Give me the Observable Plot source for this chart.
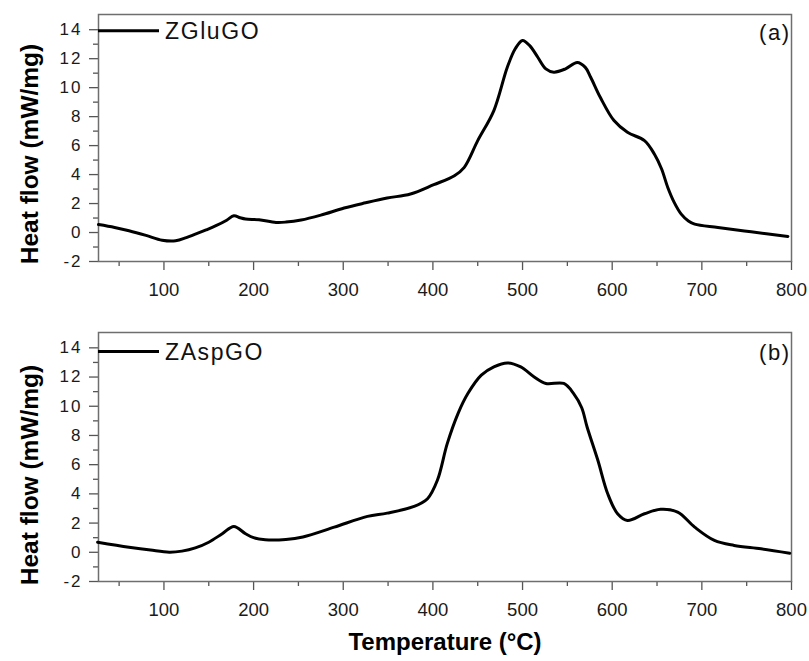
<!DOCTYPE html>
<html><head><meta charset="utf-8">
<script src="https://cdn.jsdelivr.net/npm/d3@7"></script>
<script src="https://cdn.jsdelivr.net/npm/@observablehq/plot@0.6"></script>
<style>
body{margin:0;background:#fff;}
#chart{width:809px;height:661px;position:relative;font-family:"Liberation Sans",Arial,sans-serif;background:#fff;}
#chart svg{display:block;}
#chart g[aria-label="y-axis tick label"] text{font-size:17px;letter-spacing:2px;}
#chart g[aria-label="x-axis tick label"] text{font-size:18.5px;}
</style></head><body><div id="chart"></div>
<script>
// Panel (a): ZGluGO
const tempA = [27, 45, 61, 80, 98, 113, 125, 135, 147, 158, 170, 178, 185, 191, 206, 225, 236, 253, 275, 301, 325, 349, 375, 401, 424, 435, 450, 468, 483, 492, 500, 508, 517, 526, 535, 548, 561, 570, 576, 587, 602, 617, 636, 647, 655, 662, 669, 677, 685, 692, 718, 755, 796];
const heatA = [0.55, 0.35, 0.12, -0.2, -0.53, -0.57, -0.35, -0.11, 0.18, 0.47, 0.85, 1.16, 1.02, 0.93, 0.88, 0.70, 0.72, 0.86, 1.2, 1.69, 2.05, 2.38, 2.66, 3.3, 3.92, 4.5, 6.34, 8.42, 11.41, 12.7, 13.26, 12.9, 12.1, 11.3, 11.07, 11.3, 11.74, 11.4, 10.72, 9.3, 7.73, 6.92, 6.34, 5.42, 4.4, 3.11, 2.1, 1.27, 0.8, 0.58, 0.35, 0.05, -0.27];
// Panel (b): ZAspGO
const tempB = [26, 61, 85, 106, 120, 135, 150, 165, 178, 191, 200, 213, 236, 255, 290, 327, 349, 379, 394, 405, 416, 428, 439, 454, 468, 483, 498, 513, 526, 546, 557, 566, 572, 584, 595, 606, 617, 636, 654, 673, 692, 714, 736, 766, 798];
const heatB = [0.69, 0.35, 0.15, 0.01, 0.08, 0.3, 0.69, 1.27, 1.77, 1.27, 1.0, 0.86, 0.88, 1.05, 1.72, 2.46, 2.68, 3.14, 3.67, 4.93, 7.44, 9.5, 10.87, 12.13, 12.7, 12.97, 12.7, 12.01, 11.56, 11.56, 10.87, 9.9, 8.58, 6.3, 4.01, 2.64, 2.18, 2.64, 2.94, 2.75, 1.72, 0.81, 0.47, 0.24, -0.06];

const seriesNames = ["ZGluGO", "ZAspGO"];
const panelTags = ["(a)", "(b)"];
const xTicks = [100, 200, 300, 400, 500, 600, 700, 800];
const xMinorTicks = [50, 150, 250, 350, 450, 550, 650, 750];
const yTicks = [-2, 0, 2, 4, 6, 8, 10, 12, 14];
const yMinorTicks = [-1, 1, 3, 5, 7, 9, 11, 13];
const xDomain = [27, 800];
const yDomain = [-2, 15.05];
const xTitle = "Temperature (°C)";
const yTitle = "Heat flow (mW/mg)";

const FONT = '"Liberation Sans", Arial, sans-serif';
const TICK = "#555";

function panel(temps, heats, name, tag, o) {
  const data = temps.map((t, i) => ({t, h: heats[i]}));
  const legend = (index, scales, values, dims) => {
    const g = d3.create("svg:g");
    const x0 = dims.marginLeft, y0 = dims.marginTop + o.legendDy;
    g.append("line").attr("x1", x0).attr("x2", x0 + 61).attr("y1", y0).attr("y2", y0)
      .attr("stroke", "black").attr("stroke-width", 3);
    g.append("text").attr("x", x0 + 67).attr("y", y0).attr("dy", "0.36em")
      .attr("text-anchor", "start")
      .attr("font-size", 23).attr("letter-spacing", 1.6).attr("fill", "#111")
      .attr("font-family", FONT).text(name);
    return g.node();
  };
  const marks = [
    Plot.axisY(yTicks, {tickSize: 9, tickPadding: 7, fontSize: 17, stroke: TICK, strokeWidth: 1.3, fill: "#1a1a1a", label: null, tickFormat: d => String(d)}),
    Plot.axisY(yMinorTicks, {tickSize: 5, stroke: TICK, strokeWidth: 1.3, label: null, tickFormat: () => ""}),
    Plot.axisX(xTicks, {tickSize: 9, tickPadding: 12, fontSize: 18.5, stroke: TICK, strokeWidth: 1.3, fill: "#1a1a1a", label: null, tickFormat: d => String(d)}),
    Plot.axisX(xMinorTicks, {tickSize: 5, stroke: TICK, strokeWidth: 1.3, label: null, tickFormat: () => ""}),
    Plot.frame({stroke: "#6e6e6e", strokeWidth: 1.5}),
    Plot.line(data, {x: "t", y: "h", stroke: "black", strokeWidth: 3, curve: "catmull-rom"}),
    legend,
    Plot.text([tag], {frameAnchor: "top-right", dx: -1, dy: o.tagDy, textAnchor: "end", lineAnchor: "top", fontSize: 22, fill: "#111"}),
    Plot.text([yTitle], {frameAnchor: "left", textAnchor: "middle", rotate: -90, dx: -68.4, dy: o.yTitleDy, fontSize: 24.5, fontWeight: "bold", fill: "#000"})
  ];
  if (o.showXTitle) {
    marks.push(Plot.text([xTitle], {frameAnchor: "bottom", textAnchor: "middle", dy: 68, fontSize: 24, fontWeight: "bold", fill: "#000"}));
  }
  const svg = Plot.plot({
    width: 809, height: o.height,
    marginLeft: 98, marginRight: 18, marginTop: o.mt, marginBottom: o.mb,
    style: {fontFamily: FONT, background: "white", color: "#111", overflow: "visible"},
    x: {domain: xDomain},
    y: {domain: yDomain},
    marks
  });
  // letter spacing on the panel tag text
  d3.select(svg).selectAll("text").filter(function() { return this.textContent === tag; })
    .attr("letter-spacing", 1.5);
  return svg;
}

const root = document.getElementById("chart");
root.appendChild(panel(tempA, heatA, seriesNames[0], panelTags[0],
  {height: 300, mt: 14, mb: 39, legendDy: 16.7, tagDy: 10, yTitleDy: 16, showXTitle: false}));
root.appendChild(panel(tempB, heatB, seriesNames[1], panelTags[1],
  {height: 361, mt: 32, mb: 80, legendDy: 19.4, tagDy: 11.5, yTitleDy: 18, showXTitle: true}));
</script></body></html>
